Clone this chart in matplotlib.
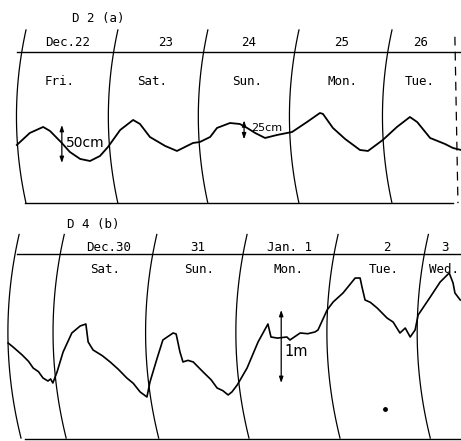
import numpy as np
import matplotlib
matplotlib.use("Agg")
import matplotlib.pyplot as plt

# D2 (a): hours after Dec.22 00:00, water level in cm
hours_a = [-2.4, 1.0, 4.5, 6.3, 9.4, 11.5, 14.2, 16.8, 19.4, 21.5, 24.7, 28.1,
           29.9, 32.5, 36.5, 39.6, 43.8, 45.6, 48.3, 50.1, 53.5, 56.1, 58.0,
           60.1, 62.7, 65.8, 69.8, 73.7, 77.1, 77.9, 80.5, 83.7, 87.6, 89.7,
           93.6, 97.3, 100.7, 102.6, 106.0, 109.9, 112.0, 114.1]
level_a = [6.6, 22.4, 30.3, 25.0, 9.2, -2.6, -11.8, -14.5, -7.9, 3.9, 26.3, 39.5,
           34.2, 17.1, 5.3, -1.3, 9.2, 10.5, 17.1, 29.0, 35.5, 34.2, 29.0,
           22.4, 15.8, 19.7, 23.7, 36.8, 48.7, 47.4, 29.0, 14.5, 0.0, -1.3,
           13.2, 30.3, 43.4, 36.8, 15.8, 7.9, 2.6, 0.0]

# D4 (b): hours after Dec.30 00:00, water level in cm
hours_b = [-15.0, -13.7, -11.3, -9.6, -8.4, -7.0, -5.8, -4.5, -3.8, -3.2, -2.1,
           -0.5, 1.8, 4.0, 5.5, 6.1, 7.4, 9.8, 11.9, 14.0, 16.3, 18.0, 19.8,
           21.6, 22.4, 24.3, 25.8, 28.5, 29.3, 30.3, 31.1, 32.4, 33.8, 36.4,
           38.5, 40.1, 41.6, 43.0, 44.0, 45.4, 48.0, 50.9, 53.5, 54.3, 56.0,
           58.5, 59.3, 62.0, 64.0, 65.9, 66.7, 69.1, 70.7, 73.3, 76.5, 77.8,
           78.3, 79.1, 80.5, 82.3, 84.9, 86.5, 88.3, 89.7, 91.0, 92.3, 93.1,
           96.3, 98.9, 101.3, 102.3, 102.8, 104.2]
level_b = [23.3, 17.8, 6.9, -2.0, -11.0, -16.0, -24.7, -28.8, -26.0, -31.5, -16.4,
           11.0, 37.0, 46.6, 49.3, 24.7, 13.7, 6.0, -2.7, -12.5, -24.7, -32.0, -43.8,
           -50.7, -30.1, 2.7, 27.4, 37.0, 35.6, 11.0, -2.7, -0.5, -2.7, -16.4,
           -27.0, -38.4, -42.0, -47.9, -43.8, -34.3, -11.0, 24.7, 49.3, 31.5, 30.0,
           31.5, 27.4, 37.0, 36.0, 38.4, 41.1, 68.5, 79.5, 91.8, 112.3, 112.3,
           100.0, 82.2, 79.0, 71.2, 57.5, 52.0, 37.0, 43.8, 31.5, 41.1, 61.6,
           86.3, 106.8, 119.2, 105.5, 91.8, 82.2]

dates_a = ["Dec.22", "23", "24", "25", "26"]
days_a = ["Fri.", "Sat.", "Sun.", "Mon.", "Tue."]
date_x_a = [10.8, 36.5, 58.5, 82.9, 103.6]
day_x_a = [8.9, 33.0, 58.0, 82.9, 103.3]
arcs_a = [0.0, 24.1, 47.7, 71.6, 96.0]

dates_b = ["Dec.30", "31", "Jan. 1", "2", "3"]
days_b = ["Sat.", "Sun.", "Mon.", "Tue.", "Wed."]
date_x_b = [11.6, 35.1, 59.1, 84.9, 100.2]
day_x_b = [10.5, 35.3, 58.8, 84.1, 99.9]
arcs_b = [-12.1, -0.2, 24.2, 48.0, 72.0, 95.8]

mono = "DejaVu Sans Mono"


def day_arc(ax, h, top, bottom, bulge, tilt=0.0, **kw):
    y = np.linspace(bottom, top, 80)
    t = (y - (top + bottom) / 2) / ((top - bottom) / 2)
    x = h + tilt * (top - y) / (top - bottom) - bulge * (1 - t ** 2)
    ax.plot(x, y, color="black", lw=0.9, **kw)


def scale_bar(ax, x, y0, y1):
    ax.annotate("", xy=(x, y0), xytext=(x, y1),
                arrowprops=dict(arrowstyle="<|-|>,head_length=0.35,head_width=0.12",
                                color="black", lw=0.9, shrinkA=0, shrinkB=0))


fig = plt.figure(figsize=(4.61, 4.41), dpi=100)

# ---- panel (a)
ax = fig.add_axes([0, 231 / 441, 1, 210 / 441])
ax.set_xlim(-6.82, 114.1)
ax.set_ylim(-79.0, 197.4)
ax.axis("off")

ax.plot([-2.4, 114.1], [129.0, 129.0], color="black", lw=1.0)
ax.plot([-0.3, 112.0], [-69.7, -69.7], color="black", lw=1.0)
for h in arcs_a:
    day_arc(ax, h, 158, -70, 2.5)
ax.plot([112.5, 113.3], [149, -70], color="black", lw=0.9, dashes=(7, 5))

ax.plot(hours_a, level_a, color="black", lw=1.3)

for x, s in zip(date_x_a, dates_a):
    ax.text(x, 142, s, family=mono, fontsize=9, ha="center", va="center")
for x, s in zip(day_x_a, days_a):
    ax.text(x, 89.5, s, family=mono, fontsize=9, ha="center", va="center")
ax.text(18.9, 173.7, "D 2 (a)", family=mono, fontsize=9, ha="center", va="center")

scale_bar(ax, 9.4, 32.9, -17.1)
ax.text(10.6, 9.2, "50cm", fontsize=10, ha="left", va="center")
scale_bar(ax, 57.2, 39.0, 14.0)
ax.text(59.0, 29.0, "25cm", fontsize=8, ha="left", va="center")

# ---- panel (b)
bx = fig.add_axes([0, 0, 1, 231 / 441])
bx.set_xlim(-17.14, 104.4)
bx.set_ylim(-111.0, 205.5)
bx.axis("off")

bx.plot([-12.7, 104.4], [145.2, 145.2], color="black", lw=1.0)
bx.plot([-10.5, 104.4], [-108.2, -108.2], color="black", lw=1.0)
for h in arcs_b:
    day_arc(bx, h, 172, -107, 3.2, tilt=0.5)

bx.plot(hours_b, level_b, color="black", lw=1.2)
bx.plot([84.4], [-67], "o", color="black", ms=2.5)

for x, s in zip(date_x_b, dates_b):
    bx.text(x, 154.8, s, family=mono, fontsize=9, ha="center", va="center")
for x, s in zip(day_x_b, days_b):
    bx.text(x, 123.3, s, family=mono, fontsize=9, ha="center", va="center")
bx.text(7.4, 185, "D 4 (b)", family=mono, fontsize=9, ha="center", va="center")

scale_bar(bx, 57.0, 68.5, -31.5)
bx.text(57.9, 11.0, "1m", fontsize=10.5, ha="left", va="center")

fig.savefig("out.png", dpi=100)
